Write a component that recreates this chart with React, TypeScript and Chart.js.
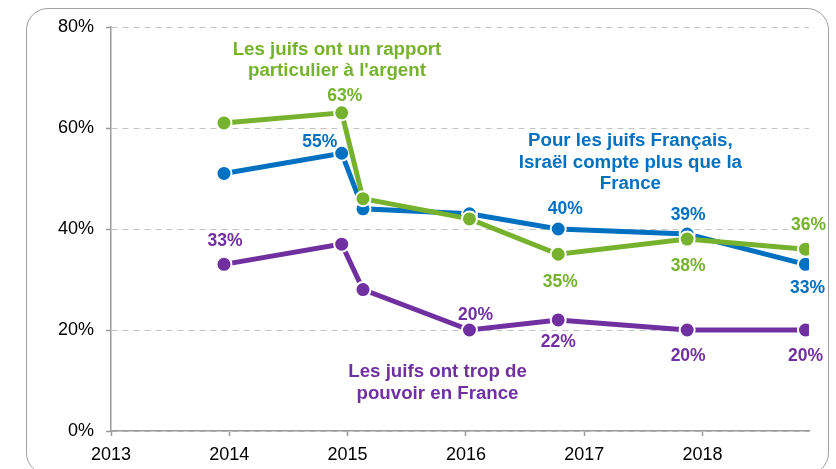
import React, { useEffect, useRef } from "react";
import { Chart, registerables } from "chart.js";

Chart.register(...registerables);

// ---- data ----
const surveyDates = [2013.955, 2014.95, 2015.13, 2016.03, 2016.78, 2017.87, 2018.87];
const argentValues = [61, 63, 46, 42, 35, 38, 36];
const israelValues = [51, 55, 44, 43, 40, 39, 33];
const pouvoirValues = [33, 37, 28, 20, 22, 20, 20];
const argentLabels = [null, "63%", null, null, "35%", "38%", "36%"];
const israelLabels = [null, "55%", null, null, "40%", "39%", "33%"];
const pouvoirLabels = ["33%", null, null, "20%", "22%", "20%", "20%"];
const xTickYears = [2013, 2014, 2015, 2016, 2017, 2018];
const yTickValues = [0, 20, 40, 60, 80];
const argentTitle = ["Les juifs ont un rapport", "particulier à l'argent"];
const israelTitle = ["Pour les juifs Français,", "Israël compte plus que la", "France"];
const pouvoirTitle = ["Les juifs ont trop de", "pouvoir en France"];

// ---- styles ----
const GREEN = "#76B22E";
const BLUE = "#0070C0";
const PURPLE = "#7030A0";
const FONT = "'Liberation Sans', Arial, sans-serif";

const labelOffsets = {
  argent: [null, [3, -18], null, null, [2, 26], [1, 26], [3, -25]],
  israel: [null, [-22, -13], null, null, [7, -21], [1, -20], [2, 22]],
  pouvoir: [[1, -25], null, null, [6, -16], [0, 21], [1, 25], [0, 25]],
};

const annotations = [
  { lines: argentTitle, color: GREEN, x: 2014.91, y: 75.8 },
  { lines: israelTitle, color: BLUE, x: 2017.39, y: 57.7 },
  { lines: pouvoirTitle, color: PURPLE, x: 2015.76, y: 12.0 },
];

const labelPlugin = {
  id: "labelPlugin",
  afterDatasetsDraw(chart: any) {
    const ctx = chart.ctx;
    ctx.save();
    ctx.textAlign = "center";
    ctx.textBaseline = "alphabetic";
    const sets = [
      { labels: argentLabels, offs: labelOffsets.argent, color: GREEN, idx: 0 },
      { labels: israelLabels, offs: labelOffsets.israel, color: BLUE, idx: 1 },
      { labels: pouvoirLabels, offs: labelOffsets.pouvoir, color: PURPLE, idx: 2 },
    ];
    const size = 17.5;
    ctx.font = `bold ${size}px ${FONT}`;
    for (const s of sets) {
      const meta = chart.getDatasetMeta(s.idx);
      s.labels.forEach((lab: string | null, j: number) => {
        if (!lab) return;
        const off = (s.offs[j] || [0, 0]) as number[];
        const el = meta.data[j];
        ctx.fillStyle = s.color;
        ctx.fillText(lab, el.x + off[0], el.y + off[1] + size * 0.358);
      });
    }
    // annotations
    const asize = 18.7;
    const lineH = 21.5;
    ctx.font = `bold ${asize}px ${FONT}`;
    const xs = chart.scales.x;
    const ys = chart.scales.y;
    for (const a of annotations) {
      const px = xs.getPixelForValue(a.x);
      const py = ys.getPixelForValue(a.y);
      ctx.fillStyle = a.color;
      a.lines.forEach((line: string, k: number) => {
        ctx.fillText(line, px, py + k * lineH + asize * 0.358);
      });
    }
    ctx.restore();
  },
};

export default function App() {
  const ref = useRef<HTMLCanvasElement | null>(null);

  useEffect(() => {
    if (!ref.current) return;
    const mk = (vals: number[], color: string) => ({
      data: vals.map((v, i) => ({ x: surveyDates[i], y: v })),
      borderColor: color,
      backgroundColor: color,
      borderWidth: 5,
      pointRadius: 7.5,
      pointBorderWidth: 2,
      pointBorderColor: "#ffffff",
      pointBackgroundColor: color,
      tension: 0,
    });
    const chart = new Chart(ref.current, {
      type: "line",
      data: {
        datasets: [
          mk(argentValues, GREEN),
          mk(israelValues, BLUE),
          mk(pouvoirValues, PURPLE),
        ] as any,
      },
      options: {
        animation: false,
        responsive: false,
        devicePixelRatio: 1,
        layout: { padding: { top: 27, right: 27, left: 0, bottom: 0 } },
        plugins: {
          legend: { display: false },
          tooltip: { enabled: false },
        },
        scales: {
          x: {
            type: "linear",
            min: 2013,
            max: 2018.9,
            afterBuildTicks: (s: any) => {
              s.ticks = xTickYears.map((v) => ({ value: v }));
            },
            afterFit: (s: any) => {
              s.height = 38;
            },
            ticks: {
              callback: (v: any) => String(v),
              color: "#000",
              font: { family: FONT, size: 18 },
              padding: 8,
              maxRotation: 0,
              autoSkip: false,
            },
            grid: {
              drawOnChartArea: false,
              drawTicks: true,
              tickLength: 5,
              tickColor: "#9A9A9A",
              tickWidth: 1.5,
            },
            border: { color: "#9A9A9A", width: 1.5 },
          },
          y: {
            min: 0,
            max: 80,
            afterBuildTicks: (s: any) => {
              s.ticks = yTickValues.map((v) => ({ value: v }));
            },
            afterFit: (s: any) => {
              s.width = 111;
            },
            ticks: {
              callback: (v: any) => v + "%",
              color: "#000",
              font: { family: FONT, size: 18 },
              padding: 12,
            },
            grid: {
              color: "#C4C4C4",
              lineWidth: 1,
              drawTicks: true,
              tickLength: 5,
              tickColor: "#9A9A9A",
              tickWidth: 1.5,
              tickBorderDash: [],
            },
            border: { color: "#9A9A9A", width: 1.5, dash: [6, 5] },
          },
        },
      } as any,
      plugins: [labelPlugin],
    });
    return () => chart.destroy();
  }, []);

  return (
    <div style={{ position: "fixed", left: 0, top: 0, width: 836, height: 469, background: "#fff", overflow: "hidden" }}>
      <div
        style={{
          position: "absolute",
          left: 26,
          top: 8,
          width: 803,
          height: 467,
          border: "1.5px solid #A0A0A0",
          borderRadius: 22,
          boxSizing: "border-box",
        }}
      />
      <canvas ref={ref} width={836} height={469} style={{ position: "absolute", left: 0, top: 0 }} />
    </div>
  );
}
